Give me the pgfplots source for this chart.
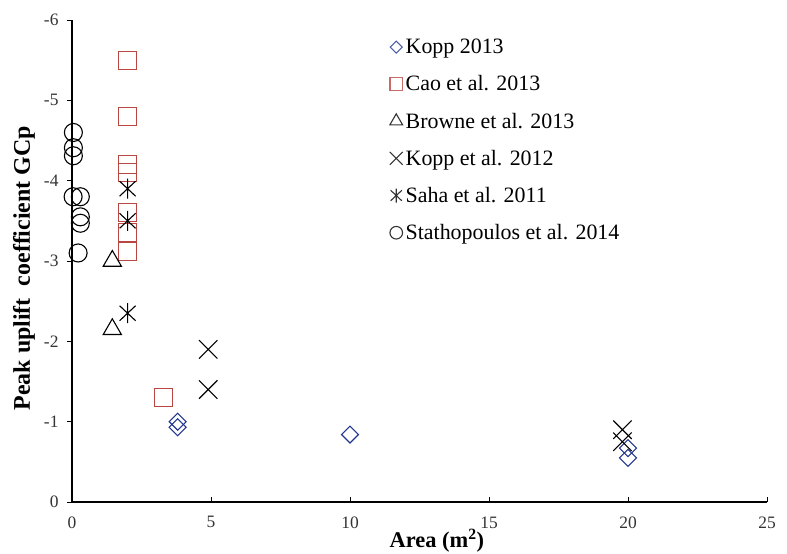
\documentclass[border=0pt]{standalone}
\usepackage{pgfplots}
\pgfplotsset{compat=1.18}
\usepackage{fontspec}
\setmainfont{Liberation Serif}
\definecolor{kblue}{RGB}{35,55,145}
\definecolor{cred}{RGB}{185,70,65}
\pgfdeclareplotmark{xstar}{%
  \pgfpathmoveto{\pgfqpoint{0pt}{\pgfplotmarksize}}%
  \pgfpathlineto{\pgfqpoint{0pt}{-\pgfplotmarksize}}%
  \pgfpathmoveto{\pgfqpoint{-.8\pgfplotmarksize}{-.75\pgfplotmarksize}}%
  \pgfpathlineto{\pgfqpoint{.8\pgfplotmarksize}{.75\pgfplotmarksize}}%
  \pgfpathmoveto{\pgfqpoint{-.8\pgfplotmarksize}{.75\pgfplotmarksize}}%
  \pgfpathlineto{\pgfqpoint{.8\pgfplotmarksize}{-.75\pgfplotmarksize}}%
  \pgfusepathqstroke}
\begin{document}
\begin{tikzpicture}
\path[use as bounding box] (-72bp,-52bp) rectangle (715bp,502bp);
\begin{axis}[
  scale only axis, width=695bp, height=482bp,
  xmin=0, xmax=25, ymin=-6, ymax=0, y dir=reverse,
  axis lines=left, axis line style={line width=1.2bp, -},
  xtick={0,5,...,25}, ytick={-6,-5,...,0},
  xtick align=inside, ytick align=outside,
  major tick length=5bp, tick style={line width=1bp, black},
  /pgf/number format/assume math mode=true,
  ticklabel style={font=\fontsize{17.5}{19}\selectfont, text=black!80},
  xticklabel style={yshift=-11bp},
  yticklabel style={xshift=-5bp},
  xlabel={\textbf{Area (m\textsuperscript{2})}},
  ylabel={\textbf{Peak uplift\ \ coefficient GCp}},
  xlabel style={font=\fontsize{22.5}{24}\selectfont, at={(axis description cs:0.525,-0.08)}, anchor=center},
  ylabel style={font=\fontsize{24}{26}\selectfont, at={(axis description cs:-0.069,0.485)}, anchor=center},
  clip=false,
  legend style={draw=none, fill=none, at={(0.457,0.965)}, anchor=north west,
    font=\fontsize{22}{24}\selectfont, row sep=16.5bp, inner sep=0pt,
    /tikz/every odd column/.append style={column sep=1bp}},
  legend cell align=left,
  legend image post style={scale=0.7, opacity=0.8},
  legend image code/.code={\draw[#1] plot coordinates {(0.25cm,0cm)};},
]
\addplot[only marks, mark=square, mark size=6bp, kblue, line width=1.1bp, mark options={rotate=45}] coordinates {
 (3.8,-1.0) (3.8,-0.93) (10,-0.84) (20,-0.67) (20,-0.55)};
\addlegendentry{Kopp 2013}
\addplot[only marks, mark=square, mark size=9bp, cred, line width=1.1bp] coordinates {
 (2.0,-5.5) (2.0,-4.8) (2.0,-4.2) (2.0,-4.1) (2.0,-3.6) (2.0,-3.35) (2.0,-3.12) (3.3,-1.3)};
\addlegendentry{Cao et al. 2013}
\addplot[only marks, mark=triangle, mark size=10.5bp, black, line width=1.1bp] coordinates {
 (1.45,-3.0) (1.45,-2.15)};
\addlegendentry{Browne et al. 2013}
\addplot[only marks, mark=x, mark size=13bp, black, line width=1.1bp] coordinates {
 (4.9,-1.9) (4.9,-1.4) (19.8,-0.9) (19.8,-0.75)};
\addlegendentry{Kopp et al. 2012}
\addplot[only marks, mark=xstar, mark size=10bp, black, line width=1.1bp] coordinates {
 (2.0,-3.9) (2.0,-3.5) (2.0,-2.35)};
\addlegendentry{Saha et al. 2011}
\addplot[only marks, mark=o, mark size=9bp, black, line width=1.1bp] coordinates {
 (0.05,-4.6) (0.05,-4.41) (0.05,-4.31) (0.04,-3.8) (0.3,-3.8) (0.3,-3.55) (0.3,-3.47) (0.22,-3.1)};
\addlegendentry{Stathopoulos et al. 2014}
\end{axis}
\end{tikzpicture}
\end{document}
